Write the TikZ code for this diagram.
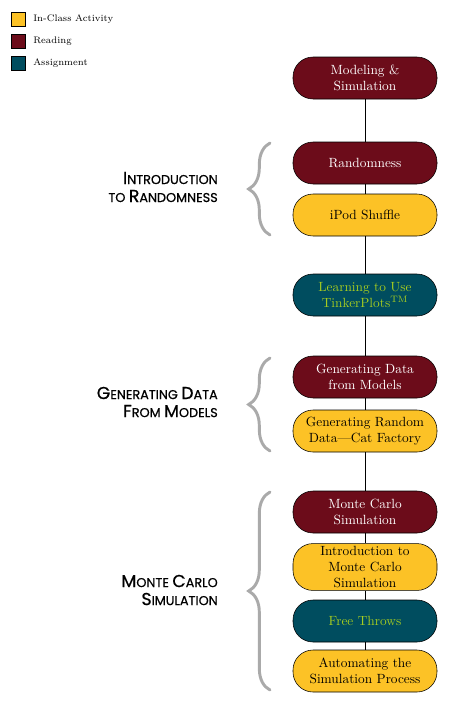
\documentclass[tikz,border=0pt]{standalone}
\usepackage{fontspec}
\usepackage{tikz}
\usetikzlibrary{positioning,decorations.pathreplacing,backgrounds}
\usepackage{xcolor}
\definecolor{activityyellow}{RGB}{252,194,38}
\definecolor{readingred}{RGB}{108,12,26}
\definecolor{assignteal}{RGB}{0,77,95}
\definecolor{assigntext}{RGB}{166,204,32}
\definecolor{bracegray}{RGB}{170,170,170}
\newfontfamily\secfont[FakeBold=0.7]{Poppins}
\newcommand\seccap[1]{{\fontsize{13}{16}\selectfont #1}}

\tikzset{
    stage/.style={draw=black, rounded corners=15pt, minimum width=108pt, minimum height=31.5pt,
        inner sep=2pt, align=center, font=\normalsize},
    activity/.style={stage, fill=activityyellow, text=black},
    reading/.style={stage, fill=readingred, text=white},
    assign/.style={stage, fill=assignteal, text=assigntext},
    keybox/.style={draw=black, minimum size=10.5pt, inner sep=0pt},
    keytext/.style={anchor=west, font=\fontsize{7.1}{9}\selectfont, inner sep=0pt},
    section/.style={anchor=east, align=right, inner sep=0pt,
        font=\secfont\fontsize{9.6}{13.5}\selectfont},
    bracket/.style={decorate, decoration={brace, amplitude=16pt}, bracegray, line width=2.2pt, line cap=round}
}

\begin{document}
\begin{tikzpicture}[x=0.75pt, y=-0.75pt]
    \useasboundingbox (0,0) rectangle (449,704);

    % Key
    \node[keybox, fill=activityyellow] (key1) at (18,19) {};
    \node[keybox, fill=readingred] (key2) at (18,41) {};
    \node[keybox, fill=assignteal] (key3) at (18,63) {};
    \node[keytext] at (33,19) {In-Class Activity};
    \node[keytext] at (33,41) {Reading};
    \node[keytext] at (33,63) {Assignment};

    % Stages
    \node[reading] (model) at (365,78) {Modeling \&\\Simulation};
    \node[reading] (random) at (365,163) {Randomness};
    \node[activity] (ipod) at (365,215) {iPod Shuffle};
    \node[assign] (tinker) at (365,295) {Learning to Use\\TinkerPlots\textsuperscript{TM}};
    \node[reading] (gendata) at (365,377) {Generating Data\\from Models};
    \node[activity] (catfac) at (365,431) {Generating Random\\Data---Cat Factory};
    \node[reading] (mcsim) at (365,512) {Monte Carlo\\Simulation};
    \node[activity] (intromc) at (365,567) {Introduction to\\Monte Carlo\\Simulation};
    \node[assign] (throws) at (365,621) {Free Throws};
    \node[activity] (autom) at (365,671) {Automating the\\Simulation Process};

    % Connectors
    \foreach \a/\b in {model/random,random/ipod,ipod/tinker,tinker/gendata,gendata/catfac,
        catfac/mcsim,mcsim/intromc,intromc/throws,throws/autom} {
        \draw[black] (\a) -- (\b);
    }

    % Sections
    \coordinate (b1s) at (270,235);
    \coordinate (b1e) at (270,143);
    \coordinate (b2s) at (270,451);
    \coordinate (b2e) at (270,358);
    \coordinate (b3s) at (270,690);
    \coordinate (b3e) at (270,492);
    \draw[bracket] (b1s) -- (b1e);
    \draw[bracket] (b2s) -- (b2e);
    \draw[bracket] (b3s) -- (b3e);

    \node[section] (sec1) at (218,187) {\seccap{I}NTRODUCTION\\TO \seccap{R}ANDOMNESS};
    \node[section] (sec2) at (218,402) {\seccap{G}ENERATING \seccap{D}ATA\\\seccap{F}ROM \seccap{M}ODELS};
    \node[section] (sec3) at (218,590) {\seccap{M}ONTE \seccap{C}ARLO\\\seccap{S}IMULATION};
\end{tikzpicture}
\end{document}
